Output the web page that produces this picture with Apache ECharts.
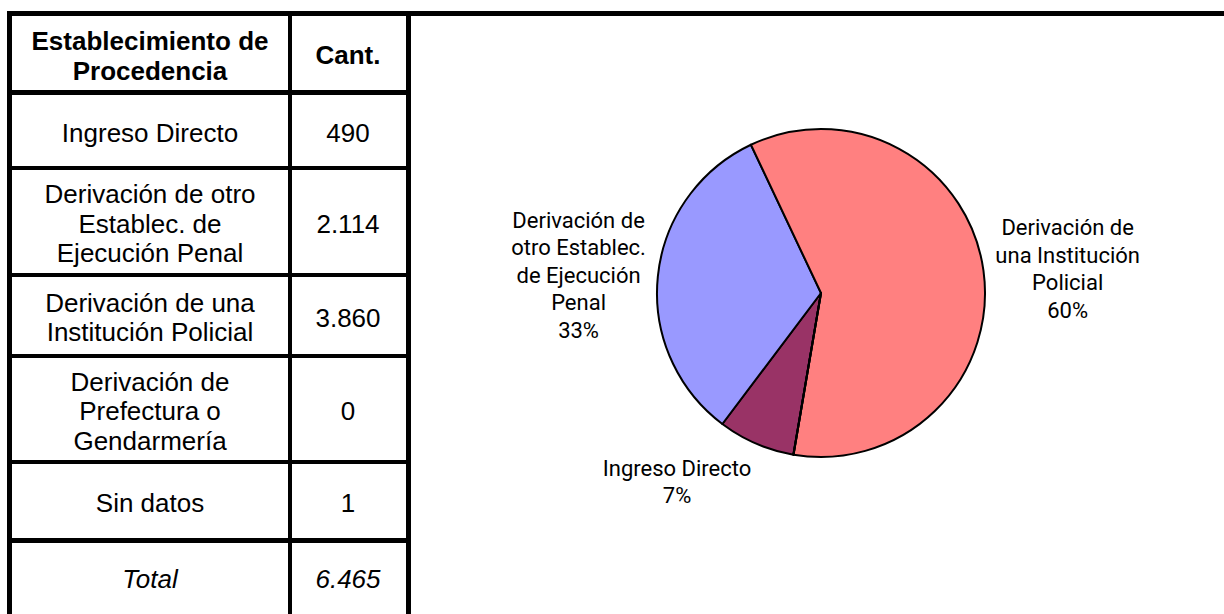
<!DOCTYPE html>
<html>
<head>
<meta charset="utf-8">
<script src="https://cdn.jsdelivr.net/npm/echarts@6/dist/echarts.min.js"></script>
<style>
  html, body { margin: 0; background: #fff; }
  #chart { width: 1224px; height: 614px; }
</style>
</head>
<body>
<div id="chart"></div>
<script>
// data
var categories = [
  'Ingreso Directo',
  'Derivación de otro Establec. de Ejecución Penal',
  'Derivación de una Institución Policial',
  'Derivación de Prefectura o Gendarmería',
  'Sin datos'
];
var tableLabels = [
  'Ingreso Directo',
  'Derivación de otro\nEstablec. de\nEjecución Penal',
  'Derivación de una\nInstitución Policial',
  'Derivación de\nPrefectura o\nGendarmería',
  'Sin datos'
];
var pieLabels = [
  'Ingreso Directo',
  'Derivación de\notro Establec.\nde Ejecución\nPenal',
  'Derivación de\nuna Institución\nPolicial',
  'Derivación de\nPrefectura o\nGendarmería',
  'Sin datos'
];
var counts = [490, 2114, 3860, 0, 1];
var headers = ['Establecimiento de\nProcedencia', 'Cant.'];
var totalLabel = 'Total';

var sliceColors = ['#993366', '#9999FF', '#FF8080', '#FFFFCC', '#CCFFFF'];

var total = counts.reduce(function (a, b) { return a + b; }, 0);

function fmt(n) {
  return String(n).replace(/\B(?=(\d{3})+(?!\d))/g, '.');
}

// table layout (pixels)
var hLines = [[11, 5], [90, 5], [166, 4], [273, 4], [354, 4], [460, 4], [538, 5]];
var vLines = [[7, 5], [288, 4], [406, 5]];
var col1X = 150, col2X = 348;

var tableFont = '"Liberation Sans", Arial, sans-serif';
var pieFont = 'Roboto, "Liberation Sans", sans-serif';

var graphics = [];
// frame line across the whole top
graphics.push({ type: 'rect', shape: { x: 7, y: 11, width: 1224 - 7, height: 5 }, style: { fill: '#000' }, silent: true });
hLines.forEach(function (l) {
  graphics.push({ type: 'rect', shape: { x: 7, y: l[0], width: 404, height: l[1] }, style: { fill: '#000' }, silent: true });
});
vLines.forEach(function (l) {
  graphics.push({ type: 'rect', shape: { x: l[0], y: 11, width: l[1], height: 614 - 11 }, style: { fill: '#000' }, silent: true });
});

function cellText(txt, x, y, weight, italic) {
  return {
    type: 'text', silent: true,
    style: {
      text: txt, x: x, y: y, align: 'center', verticalAlign: 'middle',
      fill: '#000', lineHeight: 29.5,
      font: (italic ? 'italic ' : '') + (weight || 'normal') + ' 26px ' + tableFont
    }
  };
}

function rowMid(i) {
  var top = hLines[i][0] + hLines[i][1];
  var bottom = i + 1 < hLines.length ? hLines[i + 1][0] : 614;
  return (top + bottom) / 2;
}

graphics.push(cellText(headers[0], col1X, rowMid(0) + 3, 'bold'));
graphics.push(cellText(headers[1], col2X, rowMid(0) + 2, 'bold'));
tableLabels.forEach(function (t, i) {
  graphics.push(cellText(t, col1X, rowMid(i + 1) + 2));
  graphics.push(cellText(fmt(counts[i]), col2X, rowMid(i + 1) + 2));
});
graphics.push(cellText(totalLabel, col1X, rowMid(6), 'normal', true));
graphics.push(cellText(fmt(total), col2X, rowMid(6), 'normal', true));

// pie geometry
var pieCenter = [821, 293], pieRadius = 164, startAngle = -99.7, labelGap = 12;
var midAngles = [];
var acc = startAngle;
counts.forEach(function (v) {
  var span = v / total * 360;
  midAngles.push(acc - span / 2);
  acc -= span;
});

var chart = echarts.init(document.getElementById('chart'), null, { renderer: 'svg' });
chart.setOption({
  animation: false,
  backgroundColor: '#fff',
  graphic: graphics,
  series: [{
    type: 'pie',
    center: pieCenter,
    radius: pieRadius,
    startAngle: startAngle,
    clockwise: true,
    avoidLabelOverlap: false,
    minShowLabelAngle: 1,
    percentPrecision: 0,
    silent: true,
    itemStyle: { borderColor: '#000', borderWidth: 2 },
    label: {
      show: true,
      position: 'outside',
      formatter: function (p) { return pieLabels[p.dataIndex] + '\n' + p.percent + '%'; },
      fontFamily: pieFont,
      fontSize: 22,
      lineHeight: 27.5,
      color: '#000',
      align: 'center'
    },
    labelLine: { show: false },
    labelLayout: function (p) {
      var a = midAngles[p.dataIndex] * Math.PI / 180;
      var cos = Math.cos(a), sin = Math.sin(a);
      var px = pieCenter[0] + (pieRadius + labelGap) * cos;
      var py = pieCenter[1] - (pieRadius + labelGap) * sin;
      var w = p.labelRect.width, h = p.labelRect.height;
      var fy = Math.min(1, Math.max(0, (Math.abs(sin) - 0.3) / 0.5));
      return {
        x: px + Math.sign(cos) * w / 2,
        y: py - Math.sign(sin) * fy * h / 2,
        align: 'center',
        verticalAlign: 'middle'
      };
    },
    data: categories.map(function (c, i) {
      return { name: c, value: counts[i], itemStyle: { color: sliceColors[i] } };
    })
  }]
});
</script>
</body>
</html>
